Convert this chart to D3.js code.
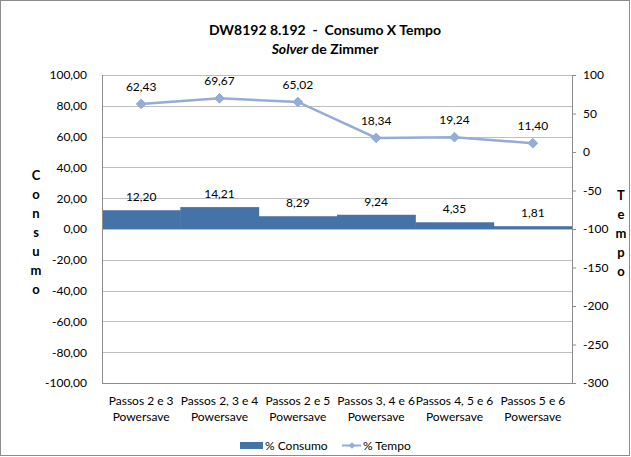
<!DOCTYPE html>
<html>
<head>
<meta charset="utf-8">
<script src="https://cdn.jsdelivr.net/npm/d3@7"></script>
<style>
  body { margin: 0; background: #fff; }
  text { font-family: Lato, "Open Sans", sans-serif; fill: #000; }
</style>
</head>
<body>
<div id="chart"></div>
<script>
// data
var categories = ["Passos 2 e 3|Powersave", "Passos 2, 3 e 4|Powersave", "Passos 2 e 5|Powersave",
                  "Passos 3, 4 e 6|Powersave", "Passos 4, 5 e 6|Powersave", "Passos 5 e 6|Powersave"];
var consumo = [12.20, 14.21, 8.29, 9.24, 4.35, 1.81];
var tempo = [62.43, 69.67, 65.02, 18.34, 19.24, 11.40];
var leftTicks = [100, 80, 60, 40, 20, 0, -20, -40, -60, -80, -100];
var rightTicks = [100, 50, 0, -50, -100, -150, -200, -250, -300];

var W = 631, H = 457;
var margin = {top: 75, right: 59, bottom: 74, left: 102},
    width = W - margin.left - margin.right,
    height = H - margin.top - margin.bottom;

var loc = d3.formatLocale({decimal: ",", thousands: ".", grouping: [3], currency: ["", ""], minus: "-"});
var f2 = loc.format(".2f");
var f0 = loc.format("d");

var svg = d3.select("#chart").append("svg")
    .attr("width", W).attr("height", H);

svg.append("rect")
    .attr("x", 0.5).attr("y", 0.5)
    .attr("width", W - 2).attr("height", H - 2)
    .attr("fill", "#fff").attr("stroke", "#8c8c8c");

var g = svg.append("g")
    .attr("transform", "translate(" + margin.left + "," + margin.top + ")");

var x = d3.scaleBand().domain(categories).range([0, width]).padding(0);
var yL = d3.scaleLinear().domain([-100, 100]).range([height, 0]);
var yR = d3.scaleLinear().domain([-300, 100]).range([height, 0]);

// gridlines
g.append("g").selectAll("line")
  .data(leftTicks).enter().append("line")
    .attr("x1", 0).attr("x2", width)
    .attr("y1", function(d) { return Math.round(yL(d)) + 0.5; })
    .attr("y2", function(d) { return Math.round(yL(d)) + 0.5; })
    .attr("stroke", "#bebebe");

// bars
g.append("g").selectAll("rect")
  .data(consumo).enter().append("rect")
    .attr("x", function(d, i) { return x(categories[i]); })
    .attr("width", x.bandwidth() + 0.5)
    .attr("y", function(d) { return yL(d); })
    .attr("height", function(d) { return yL(0) - yL(d); })
    .attr("fill", "#4572a7");

// left axis
var axL = g.append("g")
    .call(d3.axisLeft(yL).tickValues(leftTicks).tickFormat(f2).tickSize(0).tickPadding(15));
axL.select(".domain").attr("stroke", "#8c8c8c").attr("d", "M0.5,0V" + height);
axL.selectAll("text").style("font-size", "12px").attr("fill", "#000");

// right axis
var axR = g.append("g")
    .attr("transform", "translate(" + width + ",0)")
    .call(d3.axisRight(yR).tickValues(rightTicks).tickFormat(f0).tickSize(4).tickPadding(7));
axR.select(".domain").attr("stroke", "#8c8c8c").attr("d", "M0.5,0V" + height);
axR.selectAll(".tick line").attr("stroke", "#8c8c8c");
axR.selectAll("text").style("font-size", "12px").attr("fill", "#000");

// bottom line
g.append("line")
    .attr("x1", 0).attr("x2", width)
    .attr("y1", height + 0.5).attr("y2", height + 0.5)
    .attr("stroke", "#8c8c8c");

// x labels
var xl = g.append("g").selectAll("text")
  .data(categories).enter().append("text")
    .attr("x", function(d) { return x(d) + x.bandwidth() / 2; })
    .attr("y", height + 22)
    .attr("text-anchor", "middle")
    .style("font-size", "12px");
xl.each(function(d) {
  var parts = d.split("|");
  d3.select(this).selectAll("tspan").data(parts).enter().append("tspan")
    .attr("x", d3.select(this).attr("x"))
    .attr("dy", function(p, i) { return i ? 16 : 0; })
    .text(function(p) { return p; });
});

// line
var line = d3.line()
    .x(function(d, i) { return x(categories[i]) + x.bandwidth() / 2; })
    .y(function(d) { return yR(d); });

g.append("path")
    .datum(tempo)
    .attr("d", line)
    .attr("fill", "none")
    .attr("stroke", "#94acd6")
    .attr("stroke-width", 2.5);

g.append("g").selectAll("path")
  .data(tempo).enter().append("path")
    .attr("transform", function(d, i) {
      return "translate(" + (x(categories[i]) + x.bandwidth() / 2) + "," + yR(d) + ")";
    })
    .attr("d", d3.symbol().type(d3.symbolDiamond2).size(60))
    .attr("fill", "#94acd6")
    .attr("stroke", "#94acd6");

// data labels
g.append("g").selectAll("text")
  .data(tempo).enter().append("text")
    .attr("x", function(d, i) { return x(categories[i]) + x.bandwidth() / 2; })
    .attr("y", function(d) { return yR(d) - 13; })
    .attr("text-anchor", "middle")
    .style("font-size", "12px")
    .text(function(d) { return f2(d); });

g.append("g").selectAll("text")
  .data(consumo).enter().append("text")
    .attr("x", function(d, i) { return x(categories[i]) + x.bandwidth() / 2; })
    .attr("y", function(d) { return yL(d) - 9; })
    .attr("text-anchor", "middle")
    .style("font-size", "12px")
    .text(function(d) { return f2(d); });

// title
svg.append("text")
    .attr("x", 325).attr("y", 35)
    .attr("text-anchor", "middle")
    .style("font-size", "14px").style("font-weight", "bold")
    .attr("xml:space", "preserve")
    .text("DW8192 8.192  -  Consumo X Tempo");

var t2 = svg.append("text")
    .attr("x", 325).attr("y", 54)
    .attr("text-anchor", "middle")
    .style("font-size", "14px").style("font-weight", "bold");
t2.append("tspan").style("font-style", "italic").text("Solver");
t2.append("tspan").text(" de Zimmer");

// axis titles (stacked letters)
function stacked(txt, cx, cy) {
  var letters = txt.split("");
  var step = 19;
  var y0 = cy - (letters.length - 1) * step / 2;
  svg.append("g").selectAll("text")
    .data(letters).enter().append("text")
      .attr("x", cx)
      .attr("y", function(d, i) { return y0 + i * step + 5; })
      .attr("text-anchor", "middle")
      .style("font-size", "13px").style("font-weight", "bold")
      .text(function(d) { return d; });
}
stacked("Consumo", 36, 232);
stacked("Tempo", 621, 233);

// legend
var lg = svg.append("g").attr("transform", "translate(0,445)");
lg.append("rect").attr("x", 240).attr("y", -3).attr("width", 23).attr("height", 7).attr("fill", "#4572a7");
lg.append("text").attr("x", 265).attr("y", 5).style("font-size", "12px").text("% Consumo");
lg.append("line").attr("x1", 342).attr("x2", 361).attr("y1", 0.5).attr("y2", 0.5)
    .attr("stroke", "#94acd6").attr("stroke-width", 2);
lg.append("path").attr("transform", "translate(352,0.5)")
    .attr("d", d3.symbol().type(d3.symbolDiamond2).size(25)).attr("fill", "#94acd6");
lg.append("text").attr("x", 363).attr("y", 5).style("font-size", "12px").text("% Tempo");
</script>
</body>
</html>
